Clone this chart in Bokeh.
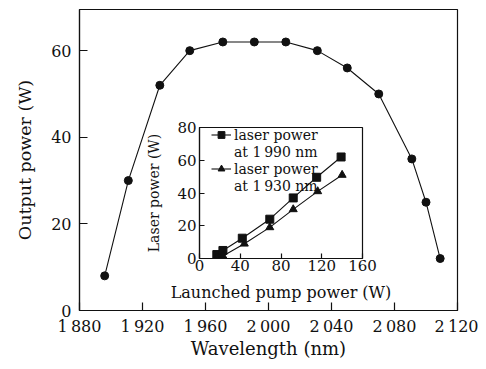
from bokeh.plotting import figure
from bokeh.models import GridBox, FixedTicker, Legend, LegendItem
from bokeh.embed import file_html
from bokeh.resources import INLINE

# ---- main chart data ----
wavelength = [1896, 1911, 1931, 1950, 1971, 1991, 2011, 2031, 2050, 2070, 2091, 2100, 2109]
output_power = [8, 30, 52, 60, 62, 62, 62, 60, 56, 50, 35, 25, 12]
x_ticks = [1880, 1920, 1960, 2000, 2040, 2080, 2120]
x_tick_labels = ["1\u2009880", "1\u2009920", "1\u2009960", "2\u2009000", "2\u2009040", "2\u2009080", "2\u2009120"]
y_ticks = [0, 20, 40, 60]

# ---- inset data ----
pump_1990 = [17, 23, 42, 69, 92, 115, 139]
laser_1990 = [2.4, 4.9, 12.4, 24, 37, 49.6, 62]
pump_1930 = [17, 23, 44, 69, 92, 116, 140]
laser_1930 = [0.5, 1.5, 9, 19, 30, 41, 51]
inset_x_ticks = [0, 40, 80, 120, 160]
inset_y_ticks = [0, 20, 40, 60, 80]

FONT = "DejaVu Serif"
INK = "#111111"


def style_axes(fig, tick_in, tick_size, label_size):
    for ax in (fig.xaxis[0], fig.yaxis[0]):
        ax.axis_line_color = INK
        ax.axis_line_width = 1.2
        ax.major_tick_line_color = INK
        ax.major_tick_line_width = 1.2
        ax.major_tick_in = tick_in
        ax.major_tick_out = 0
        ax.minor_tick_line_color = None
        ax.major_label_text_font = FONT
        ax.major_label_text_font_size = tick_size
        ax.major_label_text_color = INK
        ax.axis_label_text_font = FONT
        ax.axis_label_text_font_size = label_size
        ax.axis_label_text_font_style = "normal"
        ax.axis_label_text_color = INK
    fig.xgrid.visible = False
    fig.ygrid.visible = False
    fig.outline_line_color = INK
    fig.outline_line_width = 1.2


# ---- main figure ----
p = figure(width=470, height=353, x_range=(1880, 2120), y_range=(0, 69.5),
           output_backend="svg", toolbar_location=None,
           min_border_left=71, min_border_right=21, min_border_top=1, min_border_bottom=51)
p.line(wavelength, output_power, line_color=INK, line_width=1.1)
p.scatter(wavelength, output_power, marker="circle", size=8, fill_color=INK, line_color=INK)
p.xaxis.axis_label = "Wavelength (nm)"
p.yaxis.axis_label = "Output power (W)"
p.xaxis.ticker = FixedTicker(ticks=x_ticks)
p.xaxis.major_label_overrides = {t: s for t, s in zip(x_ticks, x_tick_labels)}
p.yaxis.ticker = FixedTicker(ticks=y_ticks)
style_axes(p, 8, "16px", "17.5px")
p.xaxis.axis_label_text_font_size = "18px"
p.xaxis.major_label_standoff = 6
p.xaxis.axis_label_standoff = -1
p.yaxis.major_label_standoff = 8
p.yaxis.axis_label_standoff = 13

# ---- inset figure ----
q = figure(width=258, height=187, x_range=(0, 160), y_range=(0, 80),
           output_backend="svg", toolbar_location=None,
           min_border_left=54, min_border_right=39, min_border_top=8, min_border_bottom=48)
q.background_fill_color = "white"
q.border_fill_alpha = 0
l1 = q.line(pump_1990, laser_1990, line_color=INK, line_width=1.1)
s1 = q.scatter(pump_1990, laser_1990, marker="square", size=8, fill_color=INK, line_color=INK)
l2 = q.line(pump_1930, laser_1930, line_color=INK, line_width=1.1)
s2 = q.scatter(pump_1930, laser_1930, marker="triangle", size=8, fill_color=INK, line_color=INK)
blank = q.scatter([], [], alpha=0)
q.xaxis.axis_label = "Launched pump power (W)"
q.yaxis.axis_label = "Laser power (W)"
q.xaxis.ticker = FixedTicker(ticks=inset_x_ticks)
q.yaxis.ticker = FixedTicker(ticks=inset_y_ticks)
style_axes(q, 5, "15px", "14px")
q.xaxis.axis_label_text_font_size = "16px"
q.xaxis.major_label_standoff = 1
q.xaxis.axis_label_standoff = 9
q.yaxis.major_label_standoff = 3
q.yaxis.axis_label_standoff = 12

legend = Legend(items=[
    LegendItem(label="laser power", renderers=[l1, s1]),
    LegendItem(label="at 1\u2009990 nm", renderers=[blank]),
    LegendItem(label="laser power", renderers=[l2, s2]),
    LegendItem(label="at 1\u2009930 nm", renderers=[blank]),
], location=(12, 64), padding=0, margin=0, spacing=0,
    label_height=17, glyph_height=17, glyph_width=20, label_standoff=3,
    label_text_font=FONT, label_text_font_size="14px", label_text_color=INK,
    background_fill_alpha=0, border_line_color=None)
q.add_layout(legend)

layout = GridBox(children=[(p, 1, 1, 3, 3), (q, 2, 2, 1, 1)],
                 rows=["8px", "111px", "187px", "55px"], cols=["8px", "135px", "258px", "77px"])

open("out.html", "w").write(file_html(layout, INLINE))
